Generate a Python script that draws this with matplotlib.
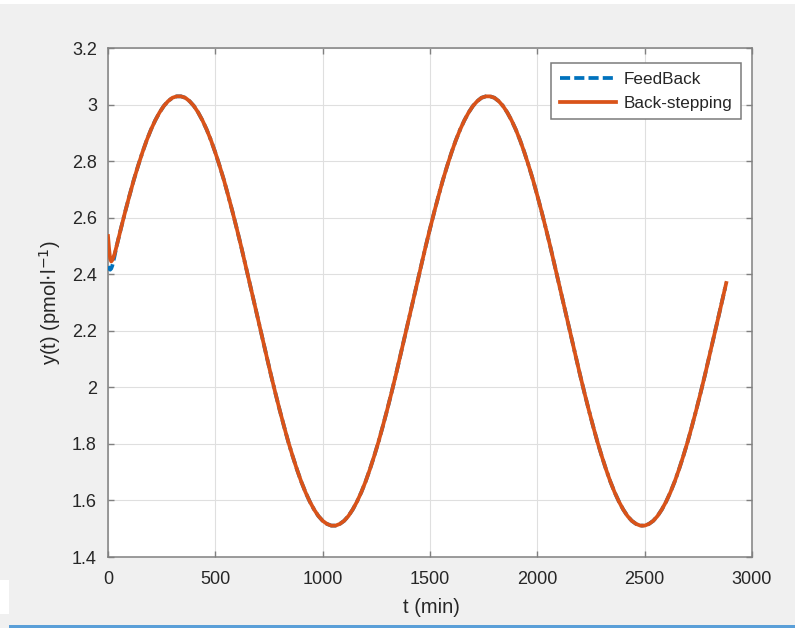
import matplotlib
matplotlib.use("Agg")
import matplotlib.pyplot as plt
from matplotlib.patches import Rectangle
from matplotlib.ticker import FuncFormatter, MultipleLocator

# ---- data ----
t_start = [0, 5, 10, 15, 20, 30]
y_feedback_start = [2.428, 2.420, 2.416, 2.420, 2.430, 2.462]
y_backstep_start = [2.535, 2.490, 2.455, 2.445, 2.450, 2.470]

t_main = list(range(40, 2881, 20))
y_main = [
    # t = 40 .. 1440
    2.499, 2.561, 2.621, 2.678, 2.733, 2.783, 2.830, 2.873, 2.911, 2.944,
    2.972, 2.995, 3.012, 3.024, 3.029,
    3.029, 3.024, 3.012, 2.995, 2.972, 2.944, 2.911, 2.873, 2.830, 2.783,
    2.733, 2.678, 2.621, 2.561, 2.499, 2.434, 2.369, 2.303, 2.237, 2.171,
    2.106, 2.041, 1.979, 1.919, 1.862, 1.807, 1.757, 1.710, 1.667, 1.629,
    1.596, 1.568, 1.545, 1.528, 1.517, 1.511,
    1.511, 1.517, 1.528, 1.545, 1.568, 1.596, 1.629, 1.667, 1.710, 1.757,
    1.807, 1.862, 1.919, 1.979, 2.041, 2.106, 2.171, 2.237, 2.303, 2.369,
    # t = 1460 .. 2880
    2.434,
    2.499, 2.561, 2.621, 2.678, 2.733, 2.783, 2.830, 2.873, 2.911, 2.944,
    2.972, 2.995, 3.012, 3.024, 3.029,
    3.029, 3.024, 3.012, 2.995, 2.972, 2.944, 2.911, 2.873, 2.830, 2.783,
    2.733, 2.678, 2.621, 2.561, 2.499, 2.434, 2.369, 2.303, 2.237, 2.171,
    2.106, 2.041, 1.979, 1.919, 1.862, 1.807, 1.757, 1.710, 1.667, 1.629,
    1.596, 1.568, 1.545, 1.528, 1.517, 1.511,
    1.511, 1.517, 1.528, 1.545, 1.568, 1.596, 1.629, 1.667, 1.710, 1.757,
    1.807, 1.862, 1.919, 1.979, 2.041, 2.106, 2.171, 2.237, 2.303, 2.369,
]

series_names = ["FeedBack", "Back-stepping"]
x_ticks = [0, 500, 1000, 1500, 2000, 2500, 3000]

t_fb = t_start + t_main
y_fb = y_feedback_start + y_main
t_bs = t_start + t_main
y_bs = y_backstep_start + y_main

# ---- figure ----
plt.rcParams['font.family'] = ['Liberation Sans', 'DejaVu Sans']
W, H = 795, 628
fig = plt.figure(figsize=(W / 100, H / 100), dpi=100, facecolor='#f0f0f0')
ax = fig.add_axes([108 / W, 1 - 557 / H, 644 / W, 509 / H])
ax.set_facecolor('white')

blue = '#0072BD'
orange = '#D95319'
lw = 2.7
ax.plot(t_fb, y_fb, color=blue, lw=lw, dashes=(2.7, 1.1, 2.7, 1.1, 2.7, 1.1, 2.7, 1.1, 0.8, 1.1),
        dash_capstyle='butt', label=series_names[0], zorder=3)
ax.plot(t_bs, y_bs, color=orange, lw=lw, label=series_names[1], zorder=4,
        solid_joinstyle='round')

ax.set_xlim(0, 3000)
ax.set_ylim(1.4, 3.2)
ax.set_xticks(x_ticks)
ax.yaxis.set_major_locator(MultipleLocator(0.2))
ax.yaxis.set_major_formatter(FuncFormatter(lambda v, p: f"{round(v, 1):g}"))
ax.xaxis.set_major_formatter(FuncFormatter(lambda v, p: f"{v:g}"))

ax.grid(True, color='#dfdfdf', lw=0.8)
ax.set_axisbelow(True)
for s in ax.spines.values():
    s.set_color('#808080')
    s.set_linewidth(1.1)
ax.tick_params(direction='in', length=4, width=1, color='#808080',
               top=True, right=True, labelsize=13, labelcolor='#262626')
ax.tick_params(axis='y', pad=8)
ax.tick_params(axis='x', pad=10)

ax.set_xlabel('t (min)', fontsize=14.5, color='#262626')
ax.xaxis.set_label_coords(0.503, -0.081)
ax.xaxis.label.set_va('top')
ax.set_ylabel(r'y(t) (pmol$\cdot$l$^{-1}$)', fontsize=14.5, color='#262626')
ax.yaxis.set_label_coords(-0.07, 0.5)

leg = ax.legend(loc='upper right', bbox_to_anchor=((741 - 108) / 644, (557 - 63) / 509),
                borderaxespad=0, fontsize=12.3, handlelength=3.3, handletextpad=0.45,
                labelspacing=0.55, borderpad=0.5, fancybox=False, framealpha=1,
                edgecolor='#7a7a7a')
leg.get_frame().set_linewidth(1.1)
for txt in leg.get_texts():
    txt.set_color('#262626')

# window decorations from the screenshot
fig.add_artist(Rectangle((0, 1 - 4 / H), 1, 4 / H, transform=fig.transFigure,
                         facecolor='white', edgecolor='none'))
fig.add_artist(Rectangle((0, 1 - 614 / H), 9 / W, 34 / H, transform=fig.transFigure,
                         facecolor='white', edgecolor='none'))
fig.add_artist(Rectangle((9 / W, 0), 1, 3.5 / H, transform=fig.transFigure,
                         facecolor='#5a9fd8', edgecolor='none'))

fig.savefig('out.png', dpi=100, facecolor=fig.get_facecolor())
